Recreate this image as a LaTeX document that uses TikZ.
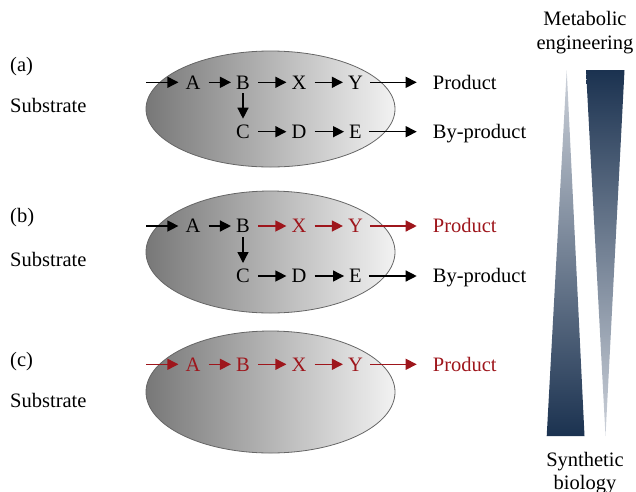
\documentclass[tikz,border=0pt]{standalone}
\usepackage{fontspec}
\setmainfont{Liberation Serif}
\usetikzlibrary{arrows.meta}
\definecolor{pred}{RGB}{158,22,28}
\definecolor{navy}{RGB}{27,50,80}
\definecolor{lnavy}{RGB}{205,210,218}
\begin{document}
\begin{tikzpicture}[x=1pt,y=-1pt,
  txt/.style={font=\fontsize{20.5}{24}\selectfont, inner sep=0pt},
  lbl/.style={txt, text height=13.6pt, text depth=0pt},
  arr/.style={line width=1.3pt, -{Triangle[length=11pt,width=11pt]}, shorten <=8pt, shorten >=5pt},
  inarr/.style={arr, shorten <=0pt, shorten >=7pt},
  outarr/.style={arr, shorten <=7pt, shorten >=16pt},
  downarr/.style={arr, shorten <=4pt, shorten >=6pt},
  cell/.style={draw=black!60, line width=0.8pt, left color=black!53, right color=black!5}]
\useasboundingbox (0,0) rectangle (636,491);

% ---------- cells ----------
\path[cell] (270.5,109) ellipse [x radius=124.5pt, y radius=58pt];
\path[cell] (270.5,252) ellipse [x radius=124.5pt, y radius=61pt];
\path[cell] (270.5,392) ellipse [x radius=124.5pt, y radius=61pt];

% ---------- (a) ----------
\node[txt, anchor=base west] (la) at (10,71) {(a)};
\node[txt, anchor=base west] (sa) at (10,112) {Substrate};
\coordinate (a0) at (146,82.3);
\node[lbl] (aA) at (193,82.3) {A};
\node[lbl] (aB) at (243,82.3) {B};
\node[lbl] (aX) at (299,82.3) {X};
\node[lbl] (aY) at (355.5,82.3) {Y};
\node[lbl, anchor=west] (aP) at (432.7,82.3) {Product};
\node[lbl] (aC) at (243,131.7) {C};
\node[lbl] (aD) at (299,131.7) {D};
\node[lbl] (aE) at (355.5,131.7) {E};
\node[lbl, anchor=west] (aBP) at (432.7,131.7) {By-product};
\draw[inarr] (a0) -- (aA);
\draw[arr] (aA) -- (aB);
\draw[arr] (aB) -- (aX);
\draw[arr] (aX) -- (aY);
\draw[outarr] (aY) -- (aP);
\draw[downarr] (aB) -- (aC);
\draw[arr] (aC) -- (aD);
\draw[arr] (aD) -- (aE);
\draw[outarr] (aE) -- (aBP);

% ---------- (b) ----------
\node[txt, anchor=base west] (lb) at (10,222) {(b)};
\node[txt, anchor=base west] (sb) at (10,266) {Substrate};
\coordinate (b0) at (146,226);
\node[lbl] (bA) at (193,226) {A};
\node[lbl] (bB) at (243,226) {B};
\node[lbl, text=pred] (bX) at (299,226) {X};
\node[lbl, text=pred] (bY) at (355.5,226) {Y};
\node[lbl, anchor=west, text=pred] (bP) at (432.7,226) {Product};
\node[lbl] (bC) at (243,276) {C};
\node[lbl] (bD) at (299,276) {D};
\node[lbl] (bE) at (355.5,276) {E};
\node[lbl, anchor=west] (bBP) at (432.7,276) {By-product};
\draw[inarr] (b0) -- (bA);
\draw[arr] (bA) -- (bB);
\draw[arr, pred] (bB) -- (bX);
\draw[arr, pred] (bX) -- (bY);
\draw[outarr, pred] (bY) -- (bP);
\draw[downarr] (bB) -- (bC);
\draw[arr] (bC) -- (bD);
\draw[arr] (bD) -- (bE);
\draw[outarr] (bE) -- (bBP);

% ---------- (c) ----------
\node[txt, anchor=base west] (lc) at (10,366) {(c)};
\node[txt, anchor=base west] (sc) at (10,407) {Substrate};
\coordinate (c0) at (146,364.3);
\node[lbl, text=pred] (cA) at (193,364.3) {A};
\node[lbl, text=pred] (cB) at (243,364.3) {B};
\node[lbl, text=pred] (cX) at (299,364.3) {X};
\node[lbl, text=pred] (cY) at (355.5,364.3) {Y};
\node[lbl, anchor=west, text=pred] (cP) at (432.7,364.3) {Product};
\draw[inarr, pred] (c0) -- (cA);
\draw[arr, pred] (cA) -- (cB);
\draw[arr, pred] (cB) -- (cX);
\draw[arr, pred] (cX) -- (cY);
\draw[outarr, pred] (cY) -- (cP);

% ---------- scale wedges ----------
\shade[top color=lnavy, bottom color=navy] (566.7,70) -- (584.5,436) -- (546.7,436) -- cycle;
\shade[top color=navy, bottom color=lnavy] (586,70) -- (624.5,70) -- (605.5,436) -- cycle;
\node[txt, anchor=base] (me1) at (585,25) {Metabolic};
\node[txt, anchor=base] (me2) at (585,49) {engineering};
\node[txt, anchor=base] (sy1) at (585,466) {Synthetic};
\node[txt, anchor=base] (sy2) at (585,489) {biology};
\end{tikzpicture}
\end{document}
